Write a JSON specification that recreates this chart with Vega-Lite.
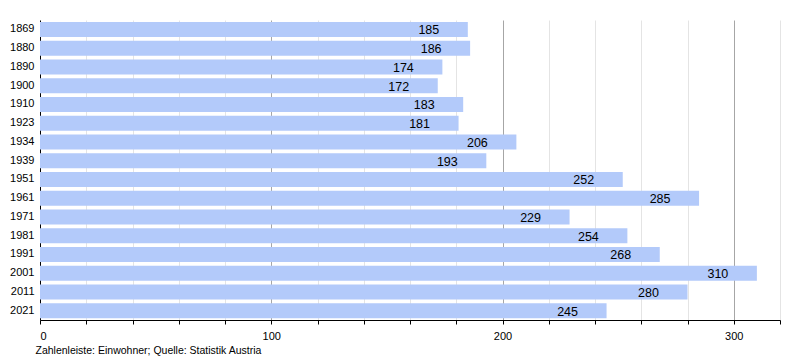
{
  "$schema": "https://vega.github.io/schema/vega-lite/v6.json",
  "autosize": "none",
  "width": 740,
  "height": 300,
  "padding": {"left": 40, "top": 20, "right": 20, "bottom": 40},
  "background": "white",
  "config": {"view": {"stroke": null}, "font": "Liberation Sans"},
  "data": {"values": [
    {"year": "1869", "pop": 185},
    {"year": "1880", "pop": 186},
    {"year": "1890", "pop": 174},
    {"year": "1900", "pop": 172},
    {"year": "1910", "pop": 183},
    {"year": "1923", "pop": 181},
    {"year": "1934", "pop": 206},
    {"year": "1939", "pop": 193},
    {"year": "1951", "pop": 252},
    {"year": "1961", "pop": 285},
    {"year": "1971", "pop": 229},
    {"year": "1981", "pop": 254},
    {"year": "1991", "pop": 268},
    {"year": "2001", "pop": 310},
    {"year": "2011", "pop": 280},
    {"year": "2021", "pop": 245}
  ]},
  "encoding": {
    "y": {"field": "year", "type": "nominal", "sort": null,
      "scale": {"paddingInner": 0.2, "paddingOuter": 0.1},
      "axis": {"title": null, "ticks": false, "domainColor": "#000", "domainWidth": 1, "labelFontSize": 11, "labelColor": "#000", "labelPadding": 6, "grid": false}},
    "x": {"field": "pop", "type": "quantitative",
      "scale": {"domain": [0, 320], "nice": false},
      "axis": {"values": [0,20,40,60,80,100,120,140,160,180,200,220,240,260,280,300,320],
        "labelExpr": "datum.value % 100 === 0 ? datum.label : ''",
        "grid": true,
        "gridColor": {"condition": {"test": "datum.value % 100 === 0 && datum.value > 0", "value": "#a6a6a6"}, "value": "#e4e4e4"},
        "domainColor": "#000", "tickColor": "#000", "tickSize": 4,
        "labelFontSize": 11, "labelColor": "#000", "labelPadding": 6,
        "title": "Zahlenleiste: Einwohner; Quelle: Statistik Austria",
        "titleFontSize": 10.5, "titleFontWeight": "normal", "titleColor": "#000",
        "titleAnchor": "start", "titleAlign": "left", "titleX": -5, "titlePadding": 4}}
  },
  "layer": [
    {"mark": {"type": "bar", "color": "#b3cafa"}},
    {"mark": {"type": "text", "align": "center", "baseline": "middle", "dx": -39, "dy": 1, "fontSize": 12.5, "color": "#000"},
     "encoding": {"text": {"field": "pop", "type": "quantitative"}}}
  ]
}
